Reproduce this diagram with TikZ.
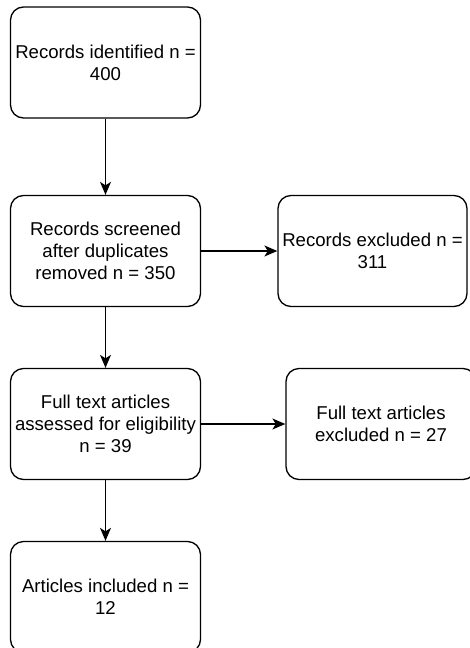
\documentclass[tikz,border=0pt]{standalone}
\usepackage{fontspec}
\setmainfont{Liberation Sans}
\usetikzlibrary{arrows.meta}

\begin{document}
\begin{tikzpicture}[x=1pt, y=-1pt, >={Stealth[length=13pt, width=11pt, inset=3.5pt]}]
    \tikzstyle{box}=[draw, rectangle, rounded corners=13pt, line width=1.3pt,
        minimum width=190pt, minimum height=111pt, align=center,
        inner sep=1pt, font=\fontsize{18.6}{22}\selectfont]
    \useasboundingbox (0, 0) rectangle (470, 648);

    % main column
    \node (ident) at (105.5, 62.5) [box] {Records identified n =\\400};
    \node (screen) at (105.5, 251) [box] {Records screened\\after duplicates\\removed n = 350};
    \node (full) at (105.5, 424) [box] {Full text articles\\assessed for eligibility\\n = 39};
    \node (incl) at (105.5, 597) [box] {Articles included n =\\12};

    % exclusions
    \node (excl1) at (372.5, 251) [box, minimum width=189pt] {Records excluded n =\\311};
    \node (excl2) at (381, 424) [box] {Full text articles\\excluded n = 27};

    \draw [->, line width=1.3pt] (ident) to (screen);
    \draw [->, line width=1.3pt] (screen) to (full);
    \draw [->, line width=1.3pt] (full) to (incl);

    \draw [->, line width=1.3pt] (screen) to (excl1);
    \draw [->, line width=1.3pt] (full) to (excl2);

\end{tikzpicture}
\end{document}
